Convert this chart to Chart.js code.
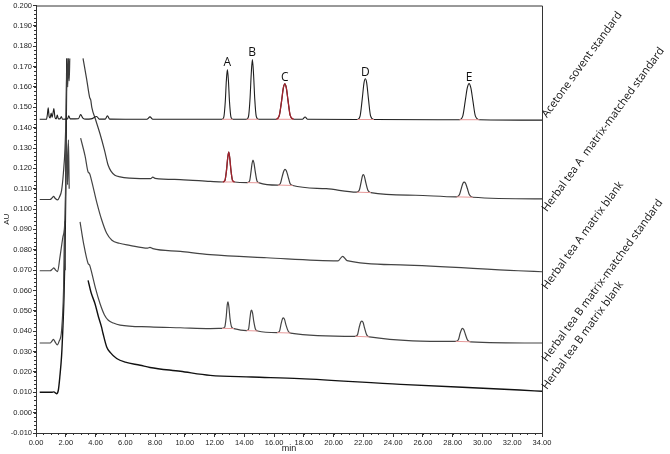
<!DOCTYPE html>
<html>
<head>
<meta charset="utf-8">
<script src="https://cdn.jsdelivr.net/npm/chart.js@4"></script>
<style>
  body { margin: 0; background: #fff; }
  canvas { display: block; }
</style>
</head>
<body>
<canvas id="chromatogram" width="670" height="454"></canvas>
<script>
// retention time (min) / absorbance (AU) pairs
const acetoneBefore = [
  [0.25, 0.1441], [0.7, 0.1441], [0.76, 0.1462], [0.82, 0.1498], [0.88, 0.1455], [0.95, 0.1448],
  [1.02, 0.1472], [1.08, 0.1450], [1.14, 0.1470], [1.2, 0.1494], [1.27, 0.1452], [1.36, 0.1443],
  [1.43, 0.1462], [1.5, 0.1443], [1.62, 0.1443], [1.7, 0.1455], [1.78, 0.1441], [2.12, 0.1443],
  [2.2, 0.1458], [2.3, 0.1443], [2.85, 0.1444], [3.0, 0.1464], [3.15, 0.1447], [3.35, 0.1442],
  [3.7, 0.1443], [4.08, 0.1455], [4.25, 0.1442], [4.65, 0.1442], [4.8, 0.1458], [4.95, 0.1442],
  [7.45, 0.1441], [7.66, 0.1453], [7.85, 0.1441],
  [12.5, 0.1441], [12.62, 0.1452], [12.72, 0.1530], [12.79, 0.1630], [12.86, 0.1685], [12.93, 0.1630],
  [13.0, 0.1530], [13.1, 0.1452], [13.22, 0.1441],
  [14.15, 0.1441], [14.28, 0.1455], [14.38, 0.1540], [14.46, 0.1660], [14.54, 0.1735], [14.62, 0.1660],
  [14.7, 0.1540], [14.8, 0.1455], [14.95, 0.1441],
];
const acetonePeakC = [
  [16.15, 0.1441], [16.35, 0.1460], [16.5, 0.1530], [16.62, 0.1595], [16.72, 0.1615], [16.82, 0.1595],
  [16.94, 0.1530], [17.08, 0.1460], [17.3, 0.1441],
];
const acetoneAfter = [
  [17.9, 0.1441], [18.08, 0.1452], [18.25, 0.1441],
  [21.6, 0.1440], [21.78, 0.1458], [21.92, 0.1540], [22.04, 0.1620], [22.13, 0.1640], [22.22, 0.1620],
  [22.34, 0.1540], [22.48, 0.1458], [22.7, 0.1440],
  [28.45, 0.1439], [28.68, 0.1458], [28.84, 0.1530], [28.98, 0.1595], [29.1, 0.1616], [29.22, 0.1595],
  [29.36, 0.1530], [29.52, 0.1458], [29.8, 0.1439],
  [34.0, 0.1437],
];

const teaAStdBefore = [
  [0.25, 0.1047], [0.95, 0.1047], [1.08, 0.1055], [1.18, 0.1062], [1.3, 0.1052], [1.45, 0.1045],
  [1.58, 0.1060], [1.72, 0.1092], [1.84, 0.1176], [1.95, 0.1300], [2.03, 0.1500], [2.08, 0.1740],
  [2.13, 0.1600], [2.18, 0.1740], [2.23, 0.1630], [2.27, 0.1740], [2.3, null],
  [3.16, 0.1740], [3.4, 0.1640], [3.6, 0.1550], [3.68, 0.1535], [3.75, 0.1500], [4.0, 0.1440],
  [4.3, 0.1370], [4.6, 0.1290], [4.85, 0.1215], [5.05, 0.1185], [5.3, 0.1166], [5.65, 0.1158],
  [6.3, 0.1152], [7.0, 0.1150], [7.7, 0.1150], [7.85, 0.1157], [8.0, 0.1151], [9.7, 0.1145],
  [11.7, 0.1136],
];
const teaAStdPeakA = [
  [12.55, 0.1133], [12.7, 0.1142], [12.8, 0.1190], [12.88, 0.1250], [12.95, 0.1280], [13.02, 0.1250],
  [13.1, 0.1190], [13.2, 0.1142], [13.35, 0.1133],
];
const teaAStdAfter = [
  [14.2, 0.1130], [14.35, 0.1138], [14.45, 0.1185], [14.52, 0.1225], [14.58, 0.1240], [14.65, 0.1225],
  [14.73, 0.1185], [14.85, 0.1138], [15.0, 0.1129],
  [16.25, 0.1118], [16.42, 0.1126], [16.55, 0.1162], [16.66, 0.1188], [16.73, 0.1195], [16.82, 0.1188],
  [16.93, 0.1162], [17.07, 0.1126], [17.25, 0.1116],
  [19.5, 0.1100],
  [21.55, 0.1083], [21.72, 0.1092], [21.84, 0.1130], [21.93, 0.1162], [21.99, 0.1169], [22.06, 0.1162],
  [22.16, 0.1130], [22.3, 0.1092], [22.5, 0.1081],
  [25.5, 0.1068],
  [28.25, 0.1060], [28.45, 0.1070], [28.58, 0.1102], [28.69, 0.1127], [28.77, 0.1132], [28.86, 0.1127],
  [28.98, 0.1102], [29.12, 0.1070], [29.35, 0.1058],
  [34.0, 0.1050],
];

const teaABlank = [
  [0.25, 0.0697], [0.95, 0.0697], [1.1, 0.0705], [1.2, 0.0711], [1.32, 0.0700], [1.45, 0.0693],
  [1.6, 0.0759], [1.8, 0.0860], [1.95, 0.0955], [2.05, 0.1348], [2.12, 0.1120], [2.18, 0.1340],
  [2.23, 0.1100], [2.26, null],
  [3.0, 0.1348], [3.3, 0.1260], [3.5, 0.1182], [3.6, 0.1175], [3.7, 0.1150], [4.1, 0.1028],
  [4.4, 0.0950], [4.75, 0.0881], [5.1, 0.0847], [5.6, 0.0832], [6.3, 0.0822], [7.5, 0.0808],
  [7.66, 0.0812], [7.85, 0.0806], [9.7, 0.0792], [11.7, 0.0776], [15.5, 0.0761], [20.3, 0.0746],
  [20.6, 0.0768], [20.9, 0.0747], [24.5, 0.0726], [32.4, 0.0697], [34.0, 0.0692],
];

const teaBStd = [
  [0.25, 0.0342], [0.95, 0.0342], [1.08, 0.0352], [1.17, 0.0360], [1.28, 0.0348], [1.42, 0.0333],
  [1.55, 0.0350], [1.72, 0.0405], [1.85, 0.0600], [1.93, 0.0940], [1.97, 0.0700], [2.0, null],
  [2.96, 0.0937], [3.2, 0.0830], [3.5, 0.0733], [3.6, 0.0725], [3.7, 0.0700], [4.0, 0.0610],
  [4.3, 0.0536], [4.6, 0.0480], [4.86, 0.0454], [5.2, 0.0440], [5.65, 0.0430], [7.66, 0.0421],
  [9.7, 0.0417], [11.7, 0.0413],
  [12.5, 0.0414], [12.68, 0.0420], [12.78, 0.0470], [12.85, 0.0530], [12.9, 0.0544], [12.96, 0.0520],
  [13.04, 0.0460], [13.15, 0.0420], [13.3, 0.0413],
  [14.15, 0.0403], [14.28, 0.0410], [14.37, 0.0460], [14.44, 0.0498], [14.48, 0.0504], [14.55, 0.0490],
  [14.63, 0.0450], [14.75, 0.0410], [14.9, 0.0401],
  [16.2, 0.0393], [16.36, 0.0400], [16.48, 0.0440], [16.57, 0.0462], [16.62, 0.0466], [16.7, 0.0458],
  [16.8, 0.0430], [16.95, 0.0400], [17.1, 0.0391],
  [21.45, 0.0375], [21.6, 0.0382], [21.72, 0.0420], [21.83, 0.0446], [21.9, 0.0450], [21.98, 0.0443],
  [22.08, 0.0415], [22.22, 0.0382], [22.4, 0.0372],
  [28.2, 0.0350], [28.38, 0.0358], [28.5, 0.0390], [28.6, 0.0410], [28.66, 0.0414], [28.74, 0.0408],
  [28.85, 0.0385], [29.0, 0.0356], [29.2, 0.0348],
  [34.0, 0.0342],
];

const teaBBlank = [
  [0.25, 0.0100], [1.05, 0.0100], [1.2, 0.0102], [1.38, 0.0093], [1.5, 0.0110], [1.6, 0.0175],
  [1.72, 0.0280], [1.8, 0.0405], [1.88, 0.0567], [1.95, 0.0800], [2.0, 0.1100], [2.04, 0.1500],
  [2.07, 0.1740], [2.1, null],
  [3.5, 0.0650], [3.7, 0.0590], [3.96, 0.0536], [4.2, 0.0470], [4.4, 0.0421], [4.5, 0.0390],
  [4.75, 0.0323], [5.0, 0.0295], [5.42, 0.0266], [6.0, 0.0248], [7.0, 0.0233], [7.66, 0.0222],
  [9.7, 0.0203], [11.7, 0.0183], [14.5, 0.0175], [17.7, 0.0167], [24.5, 0.0139], [32.5, 0.0111],
  [34.0, 0.0105],
];

// integration baselines under the peaks: [start min, start AU, end min, end AU]
const integrationBaselines = [
  [12.5, 0.1441, 13.22, 0.1441], [14.15, 0.1441, 14.95, 0.1441], [16.15, 0.1441, 17.3, 0.1441],
  [21.6, 0.1440, 22.7, 0.1440], [28.45, 0.1439, 29.8, 0.1439],
  [12.55, 0.1133, 13.35, 0.1133], [14.2, 0.1130, 15.0, 0.1129], [16.25, 0.1118, 17.25, 0.1116],
  [21.55, 0.1083, 22.5, 0.1081], [28.25, 0.1060, 29.35, 0.1058],
  [12.5, 0.0414, 13.3, 0.0413], [14.15, 0.0403, 14.9, 0.0401], [16.2, 0.0393, 17.1, 0.0391],
  [21.45, 0.0375, 22.4, 0.0372], [28.2, 0.0350, 29.2, 0.0348],
];

const seriesNames = [
  'Acetone sovent standard',
  'Herbal tea A  matrix-matched standard',
  'Herbal tea A matrix blank',
  'Herbal tea B matrix-matched standard',
  'Herbal tea B matrix blank',
];
const seriesLabelAU = [0.1446, 0.0984, 0.0602, 0.0248, 0.0111];

const peakNames = ['A', 'B', 'C', 'D', 'E'];
const peakLabelMin = [12.86, 14.52, 16.72, 22.13, 29.1];
const peakLabelAU = [0.1722, 0.1768, 0.1648, 0.1670, 0.1645];

const toXY = (pts) => pts.map(([x, y]) => ({ x, y }));

const acetone = acetoneBefore.concat(acetonePeakC, acetoneAfter);
const teaAStd = teaAStdBefore.concat(teaAStdPeakA, teaAStdAfter);

function traceDataset(label, pts, color, width) {
  return {
    label,
    data: toXY(pts),
    borderColor: color,
    borderWidth: width,
    pointRadius: 0,
    cubicInterpolationMode: 'monotone',
    spanGaps: false,
  };
}

const baselineDatasets = integrationBaselines.map(([x1, y1, x2, y2], i) => ({
  label: 'baseline ' + i,
  data: [{ x: x1, y: y1 }, { x: x2, y: y2 }],
  borderColor: '#e79a9a',
  borderWidth: 1,
  pointRadius: 0,
}));

const frameAndLabels = {
  id: 'frameAndLabels',
  afterDraw(chart) {
    const { ctx, chartArea } = chart;
    const xs = chart.scales.x;
    const ys = chart.scales.y;
    ctx.save();

    // box
    ctx.strokeStyle = '#333';
    ctx.lineWidth = 1;
    ctx.beginPath();
    ctx.moveTo(chartArea.left, chartArea.top + 0.5);
    ctx.lineTo(chartArea.right + 0.5, chartArea.top + 0.5);
    ctx.lineTo(chartArea.right + 0.5, chartArea.bottom);
    ctx.stroke();

    // minor ticks
    ctx.beginPath();
    for (let v = 0; v <= 34.001; v += 0.5) {
      const px = Math.round(xs.getPixelForValue(v)) + 0.5;
      ctx.moveTo(px, chartArea.bottom);
      ctx.lineTo(px, chartArea.bottom + 2);
    }
    for (let v = -0.01; v <= 0.2001; v += 0.002) {
      const py = Math.round(ys.getPixelForValue(v)) + 0.5;
      ctx.moveTo(chartArea.left, py);
      ctx.lineTo(chartArea.left - 2, py);
    }
    ctx.stroke();

    // peak letters
    ctx.fillStyle = '#111';
    ctx.font = '12px "Open Sans"';
    ctx.textAlign = 'center';
    ctx.textBaseline = 'middle';
    peakNames.forEach((name, i) => {
      ctx.fillText(name, xs.getPixelForValue(peakLabelMin[i]), ys.getPixelForValue(peakLabelAU[i]));
    });

    // rotated series names
    ctx.font = '11px "Open Sans"';
    ctx.textAlign = 'left';
    ctx.textBaseline = 'alphabetic';
    seriesNames.forEach((name, i) => {
      ctx.save();
      ctx.translate(chartArea.right + 5, ys.getPixelForValue(seriesLabelAU[i]));
      ctx.rotate(-54 * Math.PI / 180);
      ctx.fillText(name, 0, 0);
      ctx.restore();
    });
    ctx.restore();
  },
};

new Chart(document.getElementById('chromatogram'), {
  type: 'line',
  data: {
    datasets: [
      traceDataset('peak C', acetonePeakC, '#a3222c', 1.3),
      traceDataset('peak A', teaAStdPeakA, '#a3222c', 1.3),
      ...baselineDatasets,
      traceDataset(seriesNames[0], acetone, '#1e1e1e', 1.1),
      traceDataset(seriesNames[1], teaAStd, '#3c3c3c', 1.2),
      traceDataset(seriesNames[2], teaABlank, '#444', 1.2),
      traceDataset(seriesNames[3], teaBStd, '#444', 1.2),
      traceDataset(seriesNames[4], teaBBlank, '#111', 1.4),
    ],
  },
  options: {
    responsive: false,
    animation: false,
    events: [],
    layout: { padding: { left: 0, right: 128, top: 5, bottom: 0 } },
    plugins: {
      legend: { display: false },
      tooltip: { enabled: false },
    },
    scales: {
      x: {
        type: 'linear',
        min: 0,
        max: 34,
        afterFit: (scale) => { scale.height = 21; },
        border: { display: true, color: '#333' },
        grid: { drawOnChartArea: false, drawTicks: true, tickLength: 4, color: '#333' },
        ticks: {
          stepSize: 2,
          autoSkip: false,
          maxRotation: 0,
          padding: 1,
          color: '#222',
          font: { family: '"Liberation Sans", Arial', size: 7.5 },
          callback: (v) => v.toFixed(2),
        },
        title: {
          display: true,
          text: 'min',
          color: '#222',
          padding: 0,
          font: { family: '"Liberation Sans", Arial', size: 9 },
        },
      },
      y: {
        min: -0.01,
        max: 0.2,
        afterFit: (scale) => { scale.width = 36; },
        border: { display: true, color: '#333' },
        grid: { drawOnChartArea: false, drawTicks: true, tickLength: 3, color: '#333' },
        ticks: {
          stepSize: 0.01,
          autoSkip: false,
          padding: 1,
          color: '#222',
          font: { family: '"Liberation Sans", Arial', size: 7.5 },
          callback: (v) => v.toFixed(3),
        },
        title: {
          display: true,
          text: 'AU',
          color: '#222',
          padding: 2,
          font: { family: '"Liberation Sans", Arial', size: 8 },
        },
      },
    },
  },
  plugins: [frameAndLabels],
});
</script>
</body>
</html>
